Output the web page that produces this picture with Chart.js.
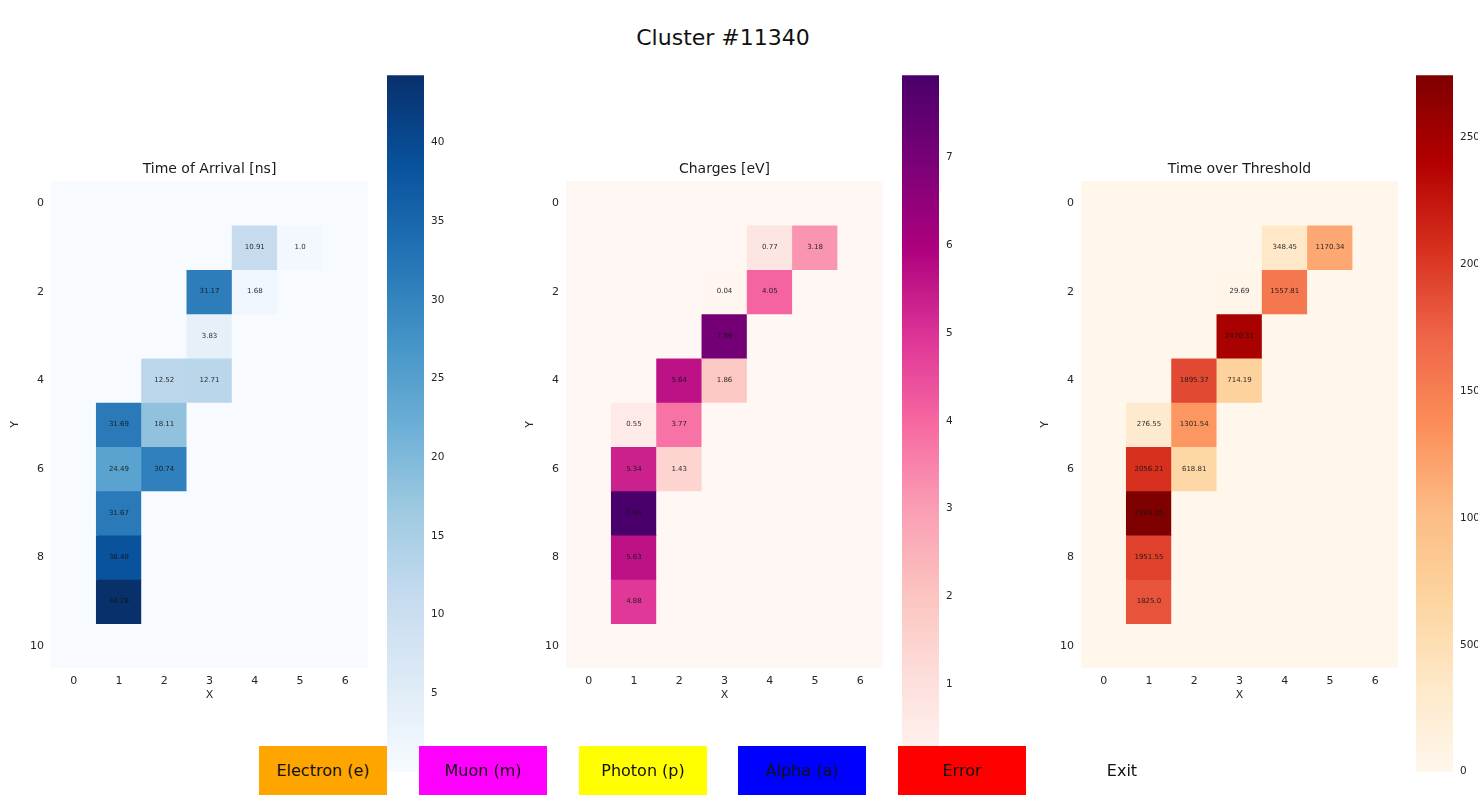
<!DOCTYPE html>
<html>
<head>
<meta charset="utf-8">
<title>Cluster #11340</title>
<script src="https://cdn.jsdelivr.net/npm/chart.js@4.4.1/dist/chart.umd.min.js"></script>
<style>
  html, body { margin: 0; padding: 0; background: #fff; width: 1478px; height: 800px; overflow: hidden; font-family: "DejaVu Sans", sans-serif; }
  #suptitle { position: absolute; left: 0; top: 24px; width: 1446px; text-align: center; font-size: 22px; line-height: 28px; color: #111; }
  canvas { position: absolute; }
  .hm { top: 140px; }
  .cb { top: 62px; }
  .btn { position: absolute; top: 746px; width: 128px; height: 49px; line-height: 49px; text-align: center; font-size: 16px; color: #111; z-index: 5; }
</style>
</head>
<body>
<div id="suptitle">Cluster #11340</div>

<canvas id="hmArrival" class="hm" width="368" height="564" style="left:0px"></canvas>
<canvas id="hmCharge" class="hm" width="368" height="564" style="left:515px"></canvas>
<canvas id="hmTot" class="hm" width="368" height="564" style="left:1030px"></canvas>

<canvas id="cbArrival" class="cb" width="80" height="723" style="left:387px"></canvas>
<canvas id="cbCharge" class="cb" width="80" height="723" style="left:902px"></canvas>
<canvas id="cbTot" class="cb" width="80" height="723" style="left:1416px"></canvas>

<div class="btn" style="left:259px;background:#ffa500">Electron (e)</div>
<div class="btn" style="left:419px;background:#ff00ff">Muon (m)</div>
<div class="btn" style="left:579px;background:#ffff00">Photon (p)</div>
<div class="btn" style="left:738px;background:#0000ff">Alpha (a)</div>
<div class="btn" style="left:898px;background:#ff0000">Error</div>
<div class="btn" style="left:1058px;background:transparent">Exit</div>

<script>
// Pixel grid: 11 rows (Y = 0..10) by 7 columns (X = 0..6)
const columnLabels = ['0', '1', '2', '3', '4', '5', '6'];
const rowTicks = [0, 2, 4, 6, 8, 10];

const arrivalTimes = [
  [0, 0, 0, 0, 0, 0, 0],
  [0, 0, 0, 0, 10.91, 1.0, 0],
  [0, 0, 0, 31.17, 1.68, 0, 0],
  [0, 0, 0, 3.83, 0, 0, 0],
  [0, 0, 12.52, 12.71, 0, 0, 0],
  [0, 31.69, 18.11, 0, 0, 0, 0],
  [0, 24.49, 30.74, 0, 0, 0, 0],
  [0, 31.67, 0, 0, 0, 0, 0],
  [0, 38.48, 0, 0, 0, 0, 0],
  [0, 44.28, 0, 0, 0, 0, 0],
  [0, 0, 0, 0, 0, 0, 0]
];

const charges = [
  [0, 0, 0, 0, 0, 0, 0],
  [0, 0, 0, 0, 0.77, 3.18, 0],
  [0, 0, 0, 0.04, 4.05, 0, 0],
  [0, 0, 0, 7.09, 0, 0, 0],
  [0, 0, 5.64, 1.86, 0, 0, 0],
  [0, 0.55, 3.77, 0, 0, 0, 0],
  [0, 5.34, 1.43, 0, 0, 0, 0],
  [0, 7.94, 0, 0, 0, 0, 0],
  [0, 5.63, 0, 0, 0, 0, 0],
  [0, 4.88, 0, 0, 0, 0, 0],
  [0, 0, 0, 0, 0, 0, 0]
];

const timeOverThreshold = [
  [0, 0, 0, 0, 0, 0, 0],
  [0, 0, 0, 0, 348.45, 1170.34, 0],
  [0, 0, 0, 29.69, 1557.81, 0, 0],
  [0, 0, 0, 2470.31, 0, 0, 0],
  [0, 0, 1895.37, 714.19, 0, 0, 0],
  [0, 276.55, 1301.54, 0, 0, 0, 0],
  [0, 2056.21, 618.81, 0, 0, 0, 0],
  [0, 2745.35, 0, 0, 0, 0, 0],
  [0, 1951.55, 0, 0, 0, 0, 0],
  [0, 1825.0, 0, 0, 0, 0, 0],
  [0, 0, 0, 0, 0, 0, 0]
];

// Colour bar tick values
const arrivalTicks = [5, 10, 15, 20, 25, 30, 35, 40];
const chargeTicks = [1, 2, 3, 4, 5, 6, 7];
const totTicks = [0, 500, 1000, 1500, 2000, 2500];

// Sequential colour maps (ColorBrewer 9-class)
const bluesStops = ['#f7fbff', '#deebf7', '#c6dbef', '#9ecae1', '#6baed6', '#4292c6', '#2171b5', '#08519c', '#08306b'];
const rdpuStops = ['#fff7f3', '#fde0dd', '#fcc5c0', '#fa9fb5', '#f768a1', '#dd3497', '#ae017e', '#7a0177', '#49006a'];
const orrdStops = ['#fff7ec', '#fee8c8', '#fdd49e', '#fdbb84', '#fc8d59', '#ef6548', '#d7301f', '#b30000', '#7f0000'];

Chart.defaults.font.family = "'DejaVu Sans', sans-serif";
Chart.defaults.color = '#262626';

function hexToRgb(h) {
  const n = parseInt(h.slice(1), 16);
  return [(n >> 16) & 255, (n >> 8) & 255, n & 255];
}

function colorAt(stops, t) {
  t = Math.max(0, Math.min(1, t));
  const pos = t * (stops.length - 1);
  const i = Math.min(Math.floor(pos), stops.length - 2);
  const f = pos - i;
  const a = hexToRgb(stops[i]), b = hexToRgb(stops[i + 1]);
  const c = a.map((v, k) => Math.round(v + (b[k] - v) * f));
  return `rgb(${c[0]},${c[1]},${c[2]})`;
}

// Python-style number text: whole numbers keep one decimal
function formatValue(v) {
  return Number.isInteger(v) ? v.toFixed(1) : String(v);
}

function makeHeatmap(canvasId, title, grid, stops) {
  const vmax = Math.max(...grid.flat());
  const datasets = grid.map((row, r) => ({
    data: row.map(() => [r - 0.5, r + 0.5]),
    backgroundColor: row.map(v => colorAt(stops, v / vmax)),
    borderWidth: 0,
    grouped: false,
    barPercentage: 1,
    categoryPercentage: 1
  }));

  const heatPlugin = {
    id: 'heatDecor_' + canvasId,
    beforeDatasetsDraw(chart) {
      const { ctx, chartArea: a } = chart;
      ctx.save();
      ctx.fillStyle = colorAt(stops, 0);
      ctx.fillRect(a.left, a.top, a.right - a.left, a.bottom - a.top);
      ctx.restore();
    },
    afterDatasetsDraw(chart) {
      const { ctx, chartArea: a } = chart;
      ctx.save();
      ctx.font = "7px 'DejaVu Sans', sans-serif";
      ctx.fillStyle = 'rgba(20,20,20,0.9)';
      ctx.textAlign = 'center';
      ctx.textBaseline = 'middle';
      grid.forEach((row, r) => {
        const meta = chart.getDatasetMeta(r);
        row.forEach((v, c) => {
          if (v === 0) return;
          const el = meta.data[c];
          ctx.fillText(formatValue(v), el.x, (el.y + el.base) / 2);
        });
      });
      // subplot title
      ctx.font = "14px 'DejaVu Sans', sans-serif";
      ctx.fillStyle = '#1a1a1a';
      ctx.textBaseline = 'middle';
      ctx.fillText(title, (a.left + a.right) / 2, a.top - 11.5);
      ctx.restore();
    }
  };

  return new Chart(document.getElementById(canvasId), {
    type: 'bar',
    data: { labels: columnLabels, datasets },
    options: {
      responsive: false,
      animation: false,
      layout: { padding: { top: 41, left: 0, right: 0, bottom: 0 } },
      plugins: { legend: { display: false }, tooltip: { enabled: false }, title: { display: false } },
      scales: {
        x: {
          type: 'category',
          offset: true,
          grid: { display: false, drawTicks: false },
          border: { display: false },
          ticks: { font: { size: 11 }, padding: 7, autoSkip: false, maxRotation: 0 },
          title: { display: true, text: 'X', font: { size: 11 }, padding: { top: 0, bottom: 2 } },
          afterFit(s) { s.height = 36; }
        },
        y: {
          type: 'linear',
          min: -0.5,
          max: 10.5,
          reverse: true,
          grid: { display: false, drawTicks: false },
          border: { display: false },
          ticks: { font: { size: 11 }, padding: 7 },
          afterBuildTicks(s) { s.ticks = rowTicks.map(v => ({ value: v })); },
          title: { display: true, text: 'Y', font: { size: 11 }, padding: { top: 9, bottom: 0 } },
          afterFit(s) { s.width = 51; }
        }
      }
    },
    plugins: [heatPlugin]
  });
}

function makeColorbar(canvasId, grid, stops, ticks) {
  const vmax = Math.max(...grid.flat());
  const vmin = 0;
  return new Chart(document.getElementById(canvasId), {
    type: 'bar',
    data: {
      labels: [''],
      datasets: [{
        data: [[vmin, vmax]],
        barPercentage: 1,
        categoryPercentage: 1,
        borderWidth: 0,
        backgroundColor(ctx) {
          const chart = ctx.chart;
          const ys = chart.scales.y;
          if (!chart.chartArea || !ys) return stops[0];
          const g = chart.ctx.createLinearGradient(0, ys.getPixelForValue(vmin), 0, ys.getPixelForValue(vmax));
          stops.forEach((c, i) => g.addColorStop(i / (stops.length - 1), c));
          return g;
        }
      }]
    },
    options: {
      responsive: false,
      animation: false,
      layout: { padding: { top: 0, bottom: 0, left: 0, right: 0 } },
      plugins: { legend: { display: false }, tooltip: { enabled: false } },
      scales: {
        x: { display: false, offset: true },
        y: {
          position: 'right',
          min: vmin,
          max: vmax,
          grid: { display: false, drawTicks: false },
          border: { display: false },
          ticks: { font: { size: 10.5 }, padding: 7, callback: v => String(v) },
          afterBuildTicks(s) { s.ticks = ticks.map(v => ({ value: v })); },
          afterFit(s) { s.width = 43; }
        }
      }
    }
  });
}

makeHeatmap('hmArrival', 'Time of Arrival [ns]', arrivalTimes, bluesStops);
makeHeatmap('hmCharge', 'Charges [eV]', charges, rdpuStops);
makeHeatmap('hmTot', 'Time over Threshold', timeOverThreshold, orrdStops);

makeColorbar('cbArrival', arrivalTimes, bluesStops, arrivalTicks);
makeColorbar('cbCharge', charges, rdpuStops, chargeTicks);
makeColorbar('cbTot', timeOverThreshold, orrdStops, totTicks);
</script>
</body>
</html>
